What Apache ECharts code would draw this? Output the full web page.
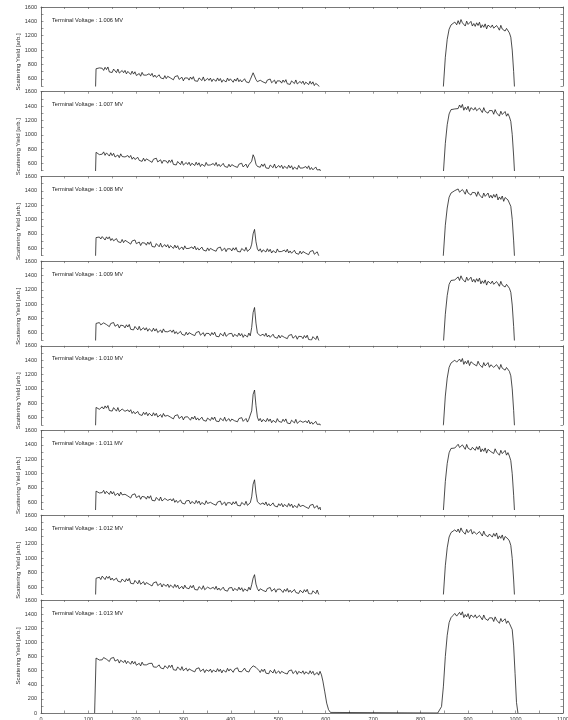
<!DOCTYPE html>
<html><head><meta charset="utf-8">
<script src="https://cdn.jsdelivr.net/npm/echarts@6/dist/echarts.min.js"></script>
<style>html,body{margin:0;padding:0;background:#fff}#c{width:568px;height:720px}</style>
</head><body><div id="c"></div>
<script>
// ---- sampling channels (x grid of the spectra) ----
function range(a, b, s){ const r=[]; for(let c=a;c<=b;c+=s) r.push(c); return r; }
const lowChannels = [113,116,118,120,123,126].concat(range(129,456,3), range(459,588,3), [591,594,598,602,606,610]);
const highChannels = [836,840,844,848,852,856,860,864,868,872,876].concat(range(879,984,3), [987,990,993,996,999,1002,1005]);

const voltages = ['1.006','1.007','1.008','1.009','1.010','1.011','1.012','1.013'];
const xTickLabels = [0,100,200,300,400,500,600,700,800,900,1000,1100];

// ---- yields ----
const low1006 = [0,740,762,722,752,730,
 747,717,760,729,765,696,722,688,736,726,686,736,680,696,716,
 685,717,669,703,697,660,706,666,698,646,666,674,636,690,652,
 675,651,627,671,643,676,624,652,620,644,656,614,638,600,644,
 603,635,653,611,629,586,630,606,644,592,590,622,572,612,606,
 612,582,625,594,630,573,599,565,613,603,576,626,570,586,606,
 578,610,562,596,590,566,612,572,604,552,586,594,556,610,572,
 600,576,552,596,568,612,560,588,556,580,601,559,583,545,589,
 612,684,660,590,560,
 548,580,598,556,574,539,583,559,597,545,550,582,532,572,566,
 570,540,583,552,588,531,557,523,571,561,534,584,528,544,564,
 536,568,520,554,548,520,566,526,558,506,536,544,506,530,
 430,300,160,60,10,0];
const high1006 = [0,20,150,500,900,1150,1290,1350,1372,1390,1352,
 1410,1360,1425,1380,1390,1335,1403,1357,1365,1400,1335,1370,
 1330,1380,1342,1388,1310,1352,1318,1365,1295,1348,1332,1315,
 1350,1305,1285,1342,1313,1277,1345,1293,1308,1265,1302,1285,
 1240,1180,1000,700,330,80,0];

const low1007 = [0,756,732,766,724,742,
 730,762,714,748,742,704,750,710,742,690,711,719,681,735,697,
 715,691,667,711,683,712,660,688,656,680,686,644,668,630,674,
 633,665,683,641,659,616,660,636,674,622,620,652,602,642,636,
 634,604,647,616,652,588,614,580,628,618,584,634,578,594,614,
 586,618,570,604,598,572,618,578,610,558,591,599,561,615,577,
 604,580,556,600,572,614,562,590,558,582,602,560,584,546,590,
 553,585,603,561,579,546,590,566,604,552,560,592,542,582,576,
 632,722,678,590,560,
 578,548,591,560,596,539,565,531,579,569,542,592,536,552,572,
 544,576,528,562,556,531,577,537,569,517,550,558,520,574,536,
 562,538,514,558,530,568,516,544,512,536,552,510,534,516,
 424,296,156,58,10,0];
const high1007 = [0,18,140,480,880,1140,1290,1350,1372,1360,1384,
 1365,1415,1377,1423,1342,1384,1350,1397,1325,1378,1362,1345,
 1380,1335,1315,1372,1346,1310,1378,1326,1344,1301,1338,1321,
 1336,1286,1351,1306,1315,1260,1328,1282,1289,1324,1259,1294,
 1250,1186,1004,704,334,82,0];

const low1008 = [0,748,768,734,756,728,
 762,738,714,758,730,759,707,735,703,727,734,692,716,678,722,
 678,710,728,686,704,657,701,677,715,663,655,687,637,677,671,
 672,642,685,654,690,624,650,616,664,654,620,670,614,630,650,
 618,650,602,636,630,597,643,603,635,583,609,617,579,633,595,
 622,598,574,618,590,630,578,606,574,598,616,574,598,560,604,
 566,598,616,574,592,558,602,578,616,564,570,602,552,592,586,
 592,562,605,574,610,556,582,548,596,586,562,612,556,572,592,
 656,800,862,690,590,
 560,592,544,578,572,547,593,553,585,533,566,574,536,590,552,
 578,554,530,574,546,586,534,562,530,554,572,530,554,516,560,
 522,554,572,530,548,510,554,530,568,516,518,550,500,522,
 428,298,158,60,10,0];
const high1008 = [0,22,160,520,920,1160,1310,1368,1390,1402,1376,
 1425,1380,1360,1417,1388,1352,1420,1368,1383,1340,1377,1360,
 1372,1322,1387,1342,1355,1300,1368,1322,1333,1368,1303,1338,
 1298,1348,1310,1356,1272,1314,1280,1327,1253,1306,1290,1273,
 1246,1184,1002,702,332,80,0];

const low1009 = [0,732,752,718,744,712,
 708,740,758,716,734,687,731,707,745,693,686,718,668,708,702,
 700,670,713,682,718,650,676,642,690,680,642,692,636,652,672,
 640,672,624,658,652,620,666,626,658,606,632,640,602,656,618,
 640,616,592,636,608,642,590,618,586,610,622,580,604,566,610,
 572,604,622,580,598,562,606,582,620,568,572,604,554,594,588,
 592,562,605,574,610,554,580,546,594,584,558,608,552,568,588,
 562,594,546,580,574,552,598,558,590,538,574,582,544,598,560,
 676,884,954,736,596,
 586,562,538,582,554,595,543,571,539,563,582,540,564,526,570,
 530,562,580,538,556,520,564,540,578,526,530,562,512,552,546,
 550,520,563,532,568,508,534,500,548,538,508,558,502,514,
 420,292,152,56,8,0];
const high1009 = [0,16,130,460,860,1120,1276,1330,1350,1338,1362,
 1380,1330,1395,1350,1363,1308,1376,1330,1341,1376,1311,1346,
 1305,1355,1317,1363,1283,1325,1291,1338,1266,1319,1303,1286,
 1322,1277,1257,1314,1286,1250,1318,1266,1282,1239,1276,1259,
 1222,1166,988,690,326,78,0];

const low1010 = [0,742,724,754,716,738,
 750,720,763,732,768,699,725,691,739,729,690,740,684,700,720,
 712,688,664,708,680,710,658,686,654,678,686,644,668,630,674,
 642,674,626,660,654,622,668,628,660,608,634,642,604,658,620,
 598,630,648,606,624,582,626,602,640,588,586,618,568,608,602,
 612,588,564,608,580,620,568,596,564,588,606,564,588,550,594,
 590,560,603,572,608,552,578,544,592,582,556,606,550,566,586,
 548,580,598,556,574,542,586,562,600,548,556,588,538,578,572,
 694,924,984,768,606,
 556,588,540,574,568,543,589,549,581,529,562,570,532,586,548,
 564,534,577,546,582,524,550,516,564,554,526,576,520,536,556,
 558,534,510,554,526,564,512,540,508,532,548,506,530,510,
 426,298,158,60,10,0];
const high1010 = [0,20,150,500,900,1150,1300,1360,1384,1400,1372,
 1365,1415,1377,1423,1342,1384,1350,1397,1325,1378,1362,1345,
 1370,1320,1385,1340,1353,1298,1366,1320,1331,1366,1301,1336,
 1345,1300,1280,1337,1308,1272,1340,1288,1304,1261,1298,1281,
 1244,1182,1000,700,330,80,0];

const low1011 = [0,756,736,768,730,752,
 735,767,719,753,747,710,756,716,748,696,718,726,688,742,704,
 680,712,730,688,706,660,704,680,718,666,660,692,642,682,676,
 674,644,687,656,692,628,654,620,668,658,624,674,618,634,654,
 650,626,602,646,618,652,600,628,596,620,632,590,614,576,620,
 594,626,578,612,606,580,626,586,618,566,598,606,568,622,584,
 568,600,618,576,594,560,604,580,618,566,572,604,554,594,588,
 594,564,607,576,612,558,584,550,598,588,564,614,558,574,594,
 676,852,914,728,608,
 596,572,548,592,564,605,553,581,549,573,592,550,574,536,580,
 552,584,536,570,564,538,584,544,576,524,556,564,526,580,542,
 526,558,576,534,552,514,558,534,572,520,522,554,504,532,
 436,306,164,62,12,0];
const high1011 = [0,18,140,490,890,1140,1290,1350,1370,1356,1380,
 1408,1363,1343,1400,1374,1338,1406,1354,1372,1329,1366,1349,
 1324,1374,1336,1382,1302,1344,1310,1357,1285,1338,1322,1305,
 1330,1280,1345,1300,1311,1256,1324,1278,1287,1322,1257,1292,
 1244,1180,998,698,330,80,0];

const low1012 = [0,722,744,712,736,704,
 752,728,704,748,720,749,697,725,693,717,724,682,706,668,712,
 702,672,715,684,720,652,678,644,692,682,644,694,638,654,674,
 630,662,680,638,656,614,658,634,672,620,618,650,600,640,634,
 610,642,594,628,622,590,636,596,628,576,602,610,572,626,588,
 606,576,619,588,624,566,592,558,606,596,568,618,562,578,598,
 600,576,552,596,568,610,558,586,554,578,598,556,580,542,586,
 562,594,546,580,574,552,598,558,590,538,574,582,544,598,560,
 632,724,772,640,578,
 544,576,594,552,570,535,579,555,593,541,546,578,528,568,562,
 572,548,524,568,540,580,528,556,524,548,566,524,548,510,554,
 550,520,563,532,568,508,534,500,548,538,508,558,502,516,
 422,294,154,58,10,0];
const high1012 = [0,20,146,496,896,1146,1296,1358,1378,1396,1368,
 1408,1358,1423,1378,1390,1335,1403,1357,1367,1402,1337,1372,
 1380,1335,1315,1372,1346,1310,1378,1326,1344,1301,1338,1321,
 1295,1345,1307,1353,1270,1312,1278,1325,1251,1304,1288,1271,
 1242,1180,998,698,330,80,0];

const low1013 = [0,778,758,784,750,770,
 753,785,790,761,779,729,773,749,787,735,725,757,707,747,741,
 715,747,699,733,727,690,736,696,728,676,696,704,666,720,682,
 705,681,657,701,673,704,652,680,648,672,681,639,663,625,669,
 662,632,675,644,680,613,639,605,653,643,606,656,600,616,636,
 593,625,643,601,619,582,626,602,640,588,590,622,572,612,606,
 590,622,574,608,602,582,628,588,620,568,608,616,578,632,594,
 624,600,576,620,592,640,588,616,584,608,636,594,618,580,624,
 642,668,656,646,618,
 604,574,617,586,622,564,590,556,604,594,566,616,560,576,596,
 558,590,608,566,584,552,596,572,610,558,566,598,548,588,582,
 565,597,549,583,577,552,598,558,590,538,566,574,536,590,
 540,452,300,140,46,8];
const high1013 = [0,12,90,380,800,1100,1280,1350,1380,1410,1372,
 1375,1425,1387,1433,1352,1394,1360,1407,1335,1388,1372,1355,
 1390,1345,1325,1382,1356,1320,1388,1336,1354,1311,1348,1331,
 1346,1296,1361,1316,1325,1270,1338,1292,1299,1334,1269,1304,
 1270,1250,1180,950,560,150,0];

const lowSets = [low1006,low1007,low1008,low1009,low1010,low1011,low1012,low1013];
const highSets = [high1006,high1007,high1008,high1009,high1010,high1011,high1012,high1013];

// ---- layout ----
const FONT = '"Liberation Sans", Arial, sans-serif';
const AX = '#555';
const LEFT = 41, WIDTH = 522;
const TOP0 = 7, STEP = 84.7, UPPER_H = 79;
const LAST_TOP = 600, LAST_H = 113;

function pairs(ch, vals){ const n=Math.min(ch.length, vals.length); const out=[]; for(let i=0;i<n;i++) out.push([ch[i], vals[i]]); return out; }

const grids=[], xAxes=[], yAxes=[], series=[], titles=[], graphics=[];
voltages.forEach((v,i)=>{
  const last = i===voltages.length-1;
  const top = last ? LAST_TOP : TOP0 + STEP*i;
  const h = last ? LAST_H : UPPER_H;
  const yMin = last ? 0 : 500;
  grids.push({left:LEFT, width:WIDTH, top:top, height:h, outerBoundsMode:'none', containLabel:false});
  const xTopIdx = xAxes.length;
  xAxes.push({gridIndex:i, type:'value', min:0, max:1100, interval:50, position:'top',
    axisLine:{show:true, onZero:false, lineStyle:{color:AX, width:0.8}},
    axisTick:{show:true, inside:true, length:2, lineStyle:{color:AX, width:0.6}},
    axisLabel:{show:false}, splitLine:{show:false}});
  if(last){
    xAxes.push({gridIndex:i, type:'value', min:0, max:1100, interval:50, position:'bottom',
      axisLine:{show:true, onZero:false, lineStyle:{color:AX, width:0.8}},
      axisTick:{show:true, inside:true, length:2.5, lineStyle:{color:AX, width:0.6}},
      axisLabel:{show:true, margin:3, fontSize:5.5, color:'#333', fontFamily:FONT,
        formatter:(val)=> xTickLabels.indexOf(val)>=0 ? String(val) : ''},
      splitLine:{show:false}});
  }
  const yLeftIdx = yAxes.length;
  yAxes.push({gridIndex:i, type:'value', min:yMin, max:1600, interval:100, position:'left',
    axisLine:{show:true, onZero:false, lineStyle:{color:AX, width:0.8}},
    axisTick:{show:true, inside:true, length:2.5, lineStyle:{color:AX, width:0.6}},
    axisLabel:{show:true, margin:4, fontSize:5.5, color:'#333', fontFamily:FONT,
      formatter:(val)=> (val%200===0 && val>=(last?0:600)) ? String(val) : ''},
    splitLine:{show:false}});
  yAxes.push({gridIndex:i, type:'value', min:yMin, max:1600, interval:100, position:'right',
    axisLine:{show:true, onZero:false, lineStyle:{color:AX, width:0.8}},
    axisTick:{show:true, inside:true, length:2.5, lineStyle:{color:AX, width:0.6}},
    axisLabel:{show:false}, splitLine:{show:false}});
  series.push({type:'line', xAxisIndex:xTopIdx, yAxisIndex:yLeftIdx, symbol:'none', showSymbol:false,
    clip:true, silent:true, animation:false,
    lineStyle:{width:0.75, color:'#111'},
    data: pairs(lowChannels, lowSets[i]).concat(pairs(highChannels, highSets[i]))});
  titles.push({text:'Terminal Voltage : '+v+' MV', left:52, top:top+10, padding:0,
    textStyle:{fontSize:5.7, fontWeight:'normal', color:'#222', fontFamily:FONT}});
  graphics.push({type:'text', x:18, y: top + (last ? 56 : 55), rotation:Math.PI/2,
    style:{text:'Scattering Yield [arb.]', fontSize:6, fontFamily:FONT, fill:'#333',
      textAlign:'center', textVerticalAlign:'middle'}});
});

const chart = echarts.init(document.getElementById('c'), null, {renderer:'canvas'});
chart.setOption({
  animation:false,
  backgroundColor:'#ffffff',
  title: titles,
  grid: grids,
  xAxis: xAxes,
  yAxis: yAxes,
  series: series,
  graphic: graphics
});
</script></body></html>
